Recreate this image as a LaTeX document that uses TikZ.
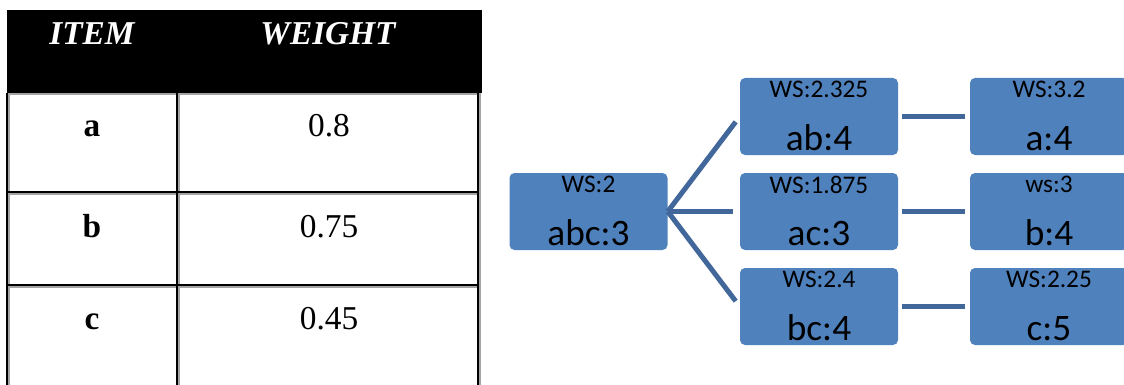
\documentclass[tikz,border=0pt]{standalone}
\usepackage{fontspec}
\setmainfont{Liberation Serif}
\newfontfamily\boxfont{Carlito}
\usetikzlibrary{positioning}
\definecolor{nodeblue}{HTML}{4F81BD}
\definecolor{linkblue}{HTML}{42679B}
\definecolor{rulegray}{HTML}{A4A4A4}

\begin{document}
\begin{tikzpicture}[
    x=0.75pt, y=-0.75pt,
    itembox/.style={rectangle, rounded corners=3.75pt, fill=nodeblue,
                    minimum width=118.5pt, minimum height=57.75pt, inner sep=0pt},
    wslabel/.style={font=\boxfont\fontsize{19}{19}\selectfont, inner sep=0pt, anchor=north},
    keylabel/.style={font=\boxfont\fontsize{28}{28}\selectfont, inner sep=0pt, anchor=base},
    link/.style={line width=3.75pt, color=linkblue},
    cell/.style={font=\fontsize{25}{25}\selectfont, inner sep=0pt, anchor=base},
    head/.style={cell, font=\fontsize{25}{25}\selectfont\bfseries\itshape, text=white},
    rule/.style={line width=1.75pt, black},
    shade/.style={line width=1.75pt, rulegray}
  ]
    \useasboundingbox (0,0) rectangle (1124,385);
    \clip (0,0) rectangle (1124,385);

    %% Weight table
    \fill[black] (7,10) rectangle (481.5,93);
    \node[head] (hitem) at (92,45) {ITEM};
    \node[head] (hweight) at (328,45) {WEIGHT};

    % grey shadow lines first, black rules on top
    \draw[shade] (9.3,94) -- (481,94);
    \foreach \y in {194.3,287.3}
      \draw[shade] (9.3,\y) -- (481,\y);
    \foreach \x in {9.3,179.3,480.3}
      \draw[shade] (\x,93) -- (\x,385);
    \foreach \y in {192,285}
      \draw[rule] (6,\y) -- (479,\y);
    \foreach \x in {7,177,478}
      \draw[rule] (\x,93) -- (\x,385);

    \node[cell, font=\fontsize{25}{25}\selectfont\bfseries] (ka) at (92,137) {a};
    \node[cell] (wa) at (329,137) {0.8};
    \node[cell, font=\fontsize{25}{25}\selectfont\bfseries] (kb) at (92,237) {b};
    \node[cell] (wb) at (329,237) {0.75};
    \node[cell, font=\fontsize{25}{25}\selectfont\bfseries] (kc) at (92,329) {c};
    \node[cell] (wc) at (329,329) {0.45};

    %% Itemset tree
    \node[itembox] (abc) at (588.5,211.5) {};
    \node[itembox] (ab) at (819,116.5) {};
    \node[itembox] (ac) at (819,211.5) {};
    \node[itembox] (bc) at (819,306.5) {};
    \node[itembox] (a) at (1049,116.5) {};
    \node[itembox] (b) at (1049,211.5) {};
    \node[itembox] (c) at (1049,306.5) {};

    \foreach \n/\ws/\key in {abc/WS:2/abc:3, ab/WS:2.325/ab:4, ac/WS:1.875/ac:3,
                             bc/WS:2.4/bc:4, a/WS:3.2/a:4, b/ws:3/b:4, c/WS:2.25/c:5} {
      \node[wslabel] (\n-ws) at ([yshift=-2.25pt]\n.north) {\ws};
      \node[keylabel] (\n-key) at ([yshift=3.75pt]\n.south) {\key};
    }

    \draw[link, shorten >=5pt] (abc.east) -- (ab.west);
    \draw[link, shorten >=5pt] (abc.east) -- (ac.west);
    \draw[link, shorten >=5pt] (abc.east) -- (bc.west);
    \draw[link, shorten <=3pt, shorten >=3.75pt] (ab) -- (a);
    \draw[link, shorten <=3pt, shorten >=3.75pt] (ac) -- (b);
    \draw[link, shorten <=3pt, shorten >=3.75pt] (bc) -- (c);
\end{tikzpicture}
\end{document}
